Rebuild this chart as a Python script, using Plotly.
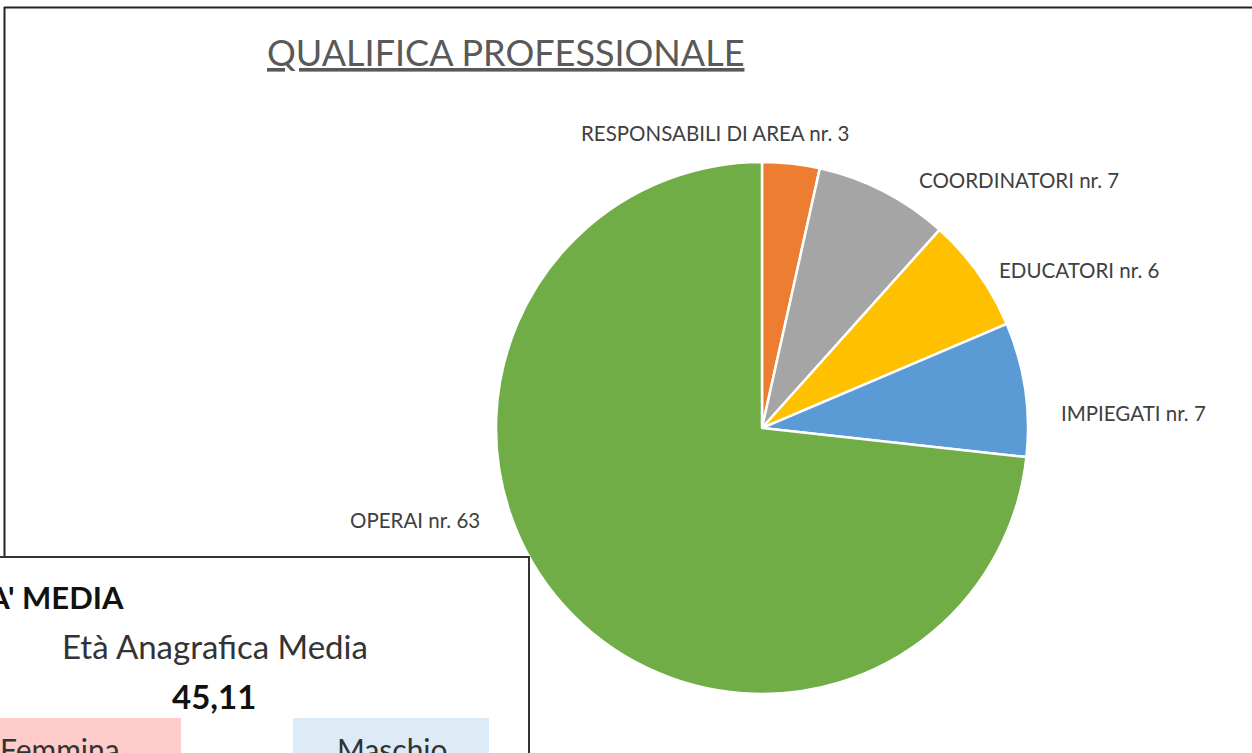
import plotly.graph_objects as go

W, H = 1252, 753

categories = ["RESPONSABILI DI AREA", "COORDINATORI", "EDUCATORI", "IMPIEGATI", "OPERAI"]
values = [3, 7, 6, 7, 63]
colors = ["#ED7D31", "#A5A5A5", "#FFC000", "#5B9BD5", "#70AD47"]
label_pos = [(715, 133), (1019, 180), (1079, 270), (1133, 413), (415, 520)]

title_text = "QUALIFICA PROFESSIONALE"
inset_title = "ETA' MEDIA"
inset_sub = "Età Anagrafica Media"
inset_value = "45,11"
gender_labels = ["Femmina", "Maschio"]

FONT = "Lato"


def px(x):
    return x / W


def py(y):
    return 1 - y / H


fig = go.Figure()
fig.add_trace(go.Pie(
    labels=categories,
    values=values,
    sort=False,
    direction="clockwise",
    rotation=0,
    marker=dict(colors=colors, line=dict(color="white", width=2.5)),
    textinfo="none",
    hoverinfo="label+value",
    domain=dict(x=[px(496), px(1028)], y=[py(694), py(162)]),
    showlegend=False,
))

annotations = []
for cat, val, (lx, ly) in zip(categories, values, label_pos):
    annotations.append(dict(
        x=px(lx), y=py(ly), xref="paper", yref="paper",
        text=f"{cat} nr. {val}", showarrow=False,
        xanchor="center", yanchor="middle",
        font=dict(family=FONT, size=20.5, color="#404040"),
    ))

annotations.append(dict(
    x=px(506), y=py(52), xref="paper", yref="paper",
    text=f"<u>{title_text}</u>", showarrow=False,
    xanchor="center", yanchor="middle",
    font=dict(family=FONT, size=36, color="#595959"),
))

shapes = [
    # outer frame
    dict(type="line", xref="paper", yref="paper", x0=px(4), x1=px(1260), y0=py(7.5), y1=py(7.5),
         line=dict(color="#222222", width=2)),
    dict(type="line", xref="paper", yref="paper", x0=px(4.5), x1=px(4.5), y0=py(7), y1=py(557),
         line=dict(color="#222222", width=2)),
    # inset box
    dict(type="rect", xref="paper", yref="paper", x0=px(-10), x1=px(529), y0=py(760), y1=py(557),
         fillcolor="white", line=dict(color="#333333", width=2), layer="above"),
    dict(type="rect", xref="paper", yref="paper", x0=px(-10), x1=px(181), y0=py(760), y1=py(718),
         fillcolor="#FFCCCC", line=dict(width=0), layer="above"),
    dict(type="rect", xref="paper", yref="paper", x0=px(293), x1=px(489), y0=py(760), y1=py(718),
         fillcolor="#DDEBF7", line=dict(width=0), layer="above"),
]

annotations += [
    dict(x=px(126), y=py(597), xref="paper", yref="paper", text=f"<b>{inset_title}</b>",
         showarrow=False, xanchor="right", yanchor="middle",
         font=dict(family=FONT, size=31, color="#111111")),
    dict(x=px(215), y=py(646), xref="paper", yref="paper", text=inset_sub,
         showarrow=False, xanchor="center", yanchor="middle",
         font=dict(family=FONT, size=33, color="#333333")),
    dict(x=px(214), y=py(696), xref="paper", yref="paper", text=f"<b>{inset_value}</b>",
         showarrow=False, xanchor="center", yanchor="middle",
         font=dict(family=FONT, size=33, color="#111111")),
    dict(x=px(60), y=py(749), xref="paper", yref="paper", text=gender_labels[0],
         showarrow=False, xanchor="center", yanchor="middle",
         font=dict(family=FONT, size=30, color="#333333")),
    dict(x=px(392), y=py(749), xref="paper", yref="paper", text=gender_labels[1],
         showarrow=False, xanchor="center", yanchor="middle",
         font=dict(family=FONT, size=30, color="#333333")),
]

fig.update_layout(
    width=W, height=H,
    margin=dict(l=0, r=0, t=0, b=0),
    paper_bgcolor="white", plot_bgcolor="white",
    annotations=annotations,
    shapes=shapes,
)

fig.write_html(
    "out.html",
    config={"displayModeBar": False},
    post_script="document.body.style.margin='0';document.body.style.overflow='hidden';",
)
